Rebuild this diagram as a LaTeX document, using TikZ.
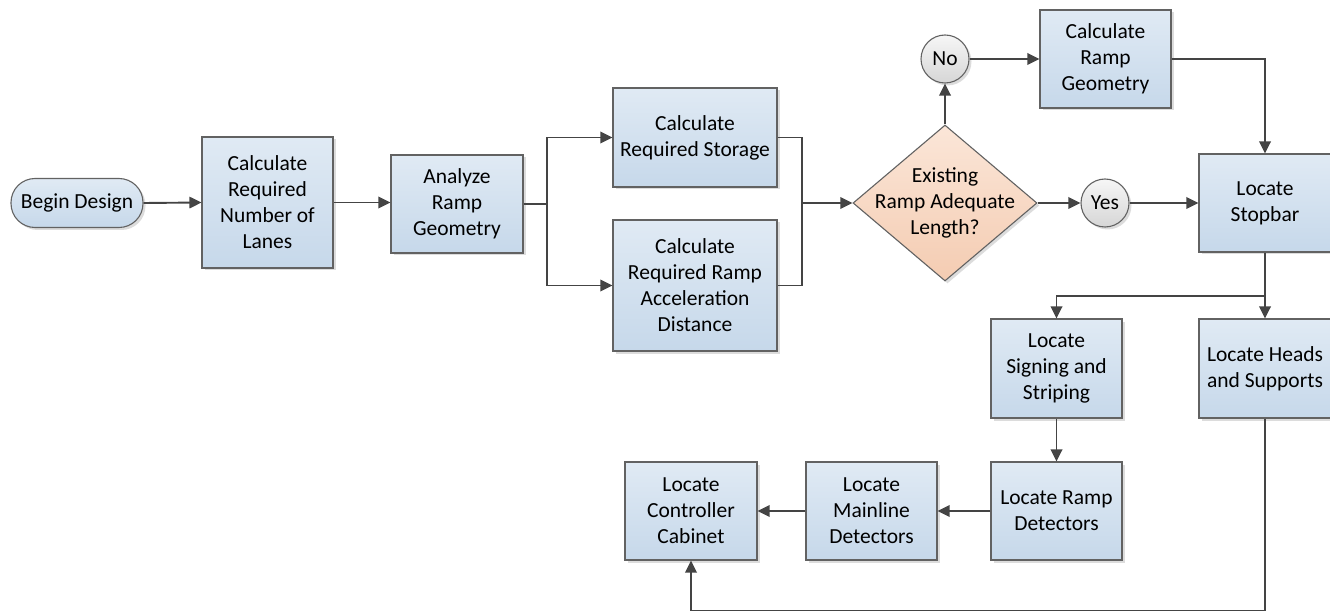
\documentclass[tikz,border=0pt]{standalone}
\usepackage{fontspec}
\setmainfont{Carlito}
\usetikzlibrary{arrows.meta,shapes.geometric,shadows}
\definecolor{boxtop}{HTML}{E0EAF4}
\definecolor{boxbot}{HTML}{C6D8EA}
\definecolor{boxline}{HTML}{626262}
\definecolor{dectop}{HTML}{FBE6D8}
\definecolor{decbot}{HTML}{F4CCB2}
\definecolor{circtop}{HTML}{F6F6F6}
\definecolor{circbot}{HTML}{D6D6D6}
\definecolor{arrcol}{HTML}{444444}
\tikzset{
  txt/.style={font=\fontsize{21.5pt}{26pt}\selectfont, align=center, text=black},
  shad/.style={drop shadow={shadow xshift=2.5pt, shadow yshift=-2.5pt, fill=black!30, opacity=0.45}},
  proc/.style={txt, shad, draw=boxline, line width=1.1pt, top color=boxtop, bottom color=boxbot,
     rectangle, inner sep=0pt, minimum width=#1},
  proc/.default=131pt,
  startnode/.style={txt, shad, draw=boxline, line width=1.1pt, top color=boxtop, bottom color=boxbot,
     rectangle, rounded corners=24pt, minimum width=132pt, minimum height=49pt, inner sep=0pt},
  decision/.style={shad, draw=boxline, line width=1.1pt, top color=dectop, bottom color=decbot,
     diamond, minimum width=184pt, minimum height=156pt, inner sep=0pt},
  answer/.style={txt, shad, draw=boxline, line width=1.1pt, top color=circtop, bottom color=circbot,
     circle, minimum size=48pt, inner sep=0pt},
  arr/.style={draw=arrcol, line width=1.9pt, -{Triangle[length=12pt,width=11.5pt]}},
  ln/.style={draw=arrcol, line width=1.9pt},
}
\begin{document}
\begin{tikzpicture}[x=1pt,y=-1pt]
\useasboundingbox (0,0) rectangle (1330,612);
\node[startnode] (begin) at (77,203) {Begin Design};
\node[proc, minimum height=131pt] (lanes) at (267.5,202.5) {Calculate\\Required\\Number of\\Lanes};
\node[proc=132pt, minimum height=98pt] (analyze) at (457,204) {Analyze\\Ramp\\Geometry};
\node[proc=164pt, minimum height=99pt] (storage) at (695,137.5) {Calculate\\Required Storage};
\node[proc=164pt, minimum height=131pt] (accel) at (695,285.5) {Calculate\\Required Ramp\\Acceleration\\Distance};
\node[decision, label={[txt]center:{Existing\\Ramp Adequate\\Length?}}] (dec) at (945,203) {};
\node[answer] (no) at (945,59) {No};
\node[answer] (yes) at (1105,203) {Yes};
\node[proc, minimum height=98pt] (rampgeom) at (1105.5,59) {Calculate\\Ramp\\Geometry};
\node[proc=132pt, minimum height=98pt] (stopbar) at (1265,203) {Locate\\Stopbar};
\node[proc, minimum height=99pt] (signing) at (1056.5,368.5) {Locate\\Signing and\\Striping};
\node[proc=132pt, minimum height=99pt] (heads) at (1265,368.5) {Locate Heads\\and Supports};
\node[proc, minimum height=98pt] (rampdet) at (1056.5,511) {Locate Ramp\\Detectors};
\node[proc, minimum height=98pt] (mainline) at (871.5,511) {Locate\\Mainline\\Detectors};
\node[proc=132pt, minimum height=98pt] (controller) at (691,511) {Locate\\Controller\\Cabinet};
\coordinate (j1) at (547,204);
\coordinate (j2) at (802,203);
\coordinate (j3) at (1265,296);
\coordinate (j4) at (1265,610.5);
\draw[arr] (begin.east) -- (lanes.west);
\draw[arr] (lanes.east) -- (lanes.east -| analyze.west);
\draw[ln] (analyze.east) -- (j1);
\draw[arr] (j1) |- (storage.west);
\draw[arr] (j1) |- (accel.west);
\draw[ln] (storage.east) -| (j2);
\draw[ln] (accel.east) -| (j2);
\draw[arr] (j2) -- (dec.west);
\draw[arr] (dec.north) -- (no.south);
\draw[arr] (no.east) -- (rampgeom.west);
\draw[arr] (rampgeom.east) -| (stopbar.north);
\draw[arr] (dec.east) -- (yes.west);
\draw[arr] (yes.east) -- (stopbar.west);
\draw[arr] (stopbar.south) -- (heads.north);
\draw[arr] (j3) -| (signing.north);
\draw[arr] (signing.south) -- (rampdet.north);
\draw[arr] (rampdet.west) -- (mainline.east);
\draw[arr] (mainline.west) -- (controller.east);
\draw[ln] (heads.south) -- (j4);
\draw[arr] (j4) -| (controller.south);
\end{tikzpicture}
\end{document}
